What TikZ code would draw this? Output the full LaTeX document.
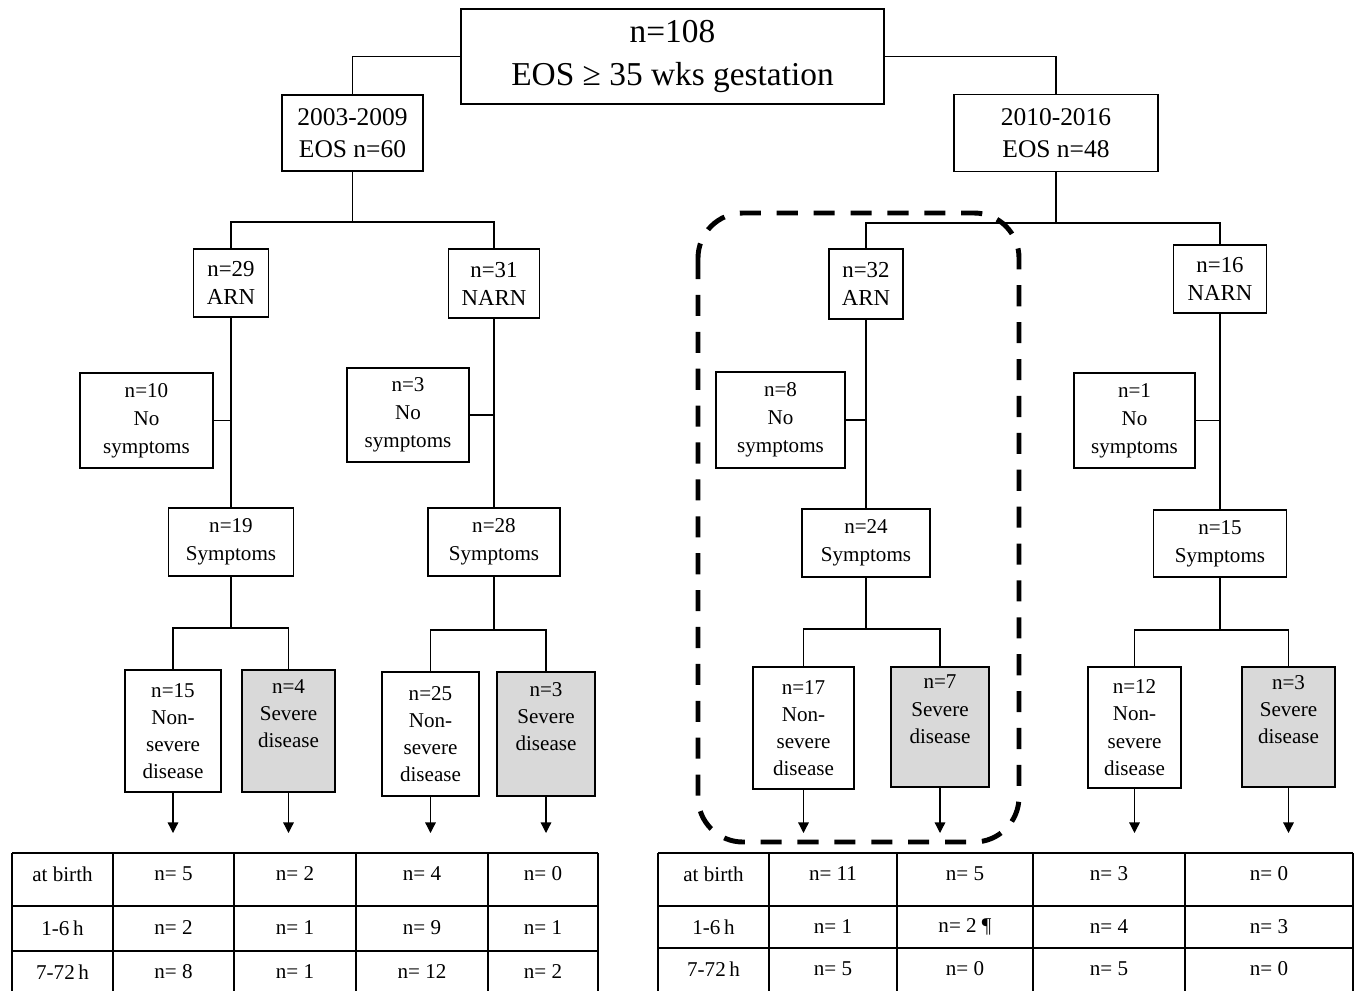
\documentclass[tikz,border=0pt]{standalone}
\usepackage{fontspec}
\setmainfont{Liberation Serif}
\usepackage{tikz}
\usetikzlibrary{arrows.meta}
\tikzset{main node/.style={draw,fill=white,align=center,inner sep=0pt,font=\fontsize{12}{16}\selectfont},
	arn node/.style={main node,font=\fontsize{13}{16}\selectfont},
	dis node/.style={main node,font=\fontsize{12}{15.5}\selectfont},
	sev node/.style={dis node,fill=gray!30},
	tab node/.style={font=\fontsize{12}{14}\selectfont},
	arr/.style={-{Triangle[width=6pt,length=6pt]}},}

\begin{document}
\begin{tikzpicture}[x=0.02cm,y=-0.02cm,line width=0.7pt]
	\useasboundingbox (0,0) rectangle (1358,991);

	\node[main node,minimum width=8.46cm,minimum height=1.9cm,font=\fontsize{19}{24}\selectfont] (top) at (672.5,56.5) {n=108\\EOS ≥ 35 wks gestation};
	\node[main node,minimum width=2.82cm,minimum height=1.52cm,font=\fontsize{14.5}{18}\selectfont] (y1) at (352.5,133) {2003-2009\\EOS n=60};
	\node[main node,minimum width=4.08cm,minimum height=1.54cm,font=\fontsize{14.5}{18}\selectfont] (y2) at (1056,133) {2010-2016\\EOS n=48};
	\coordinate (j1) at (352.5,222);
	\coordinate (j2) at (1056,223);

	% 2003-2009
	\node[arn node,minimum width=1.5cm,minimum height=1.36cm] (a1) at (231,283) {n=29\\ARN};
	\node[main node,minimum width=2.66cm,minimum height=1.9cm] (ns1) at (146.5,420.5) {n=10\\No\\symptoms};
	\node[main node,minimum width=2.5cm,minimum height=1.36cm] (s1) at (231,542) {n=19\\Symptoms};
	\node[dis node,minimum width=1.92cm,minimum height=2.44cm] (d1) at (173,731) {n=15\\Non-\\severe\\disease};
	\node[sev node,minimum width=1.86cm,minimum height=2.44cm] (v1) at (288.5,731) {n=4\\Severe\\disease\\\strut};
	\coordinate (k1) at (231,628);

	\node[arn node,minimum width=1.82cm,minimum height=1.38cm] (n1) at (494,283.5) {n=31\\NARN};
	\node[main node,minimum width=2.44cm,minimum height=1.88cm] (ns2) at (408,415) {n=3\\No\\symptoms};
	\node[main node,minimum width=2.64cm,minimum height=1.36cm] (s2) at (494,542) {n=28\\Symptoms};
	\node[dis node,minimum width=1.94cm,minimum height=2.48cm] (d2) at (430.5,734) {n=25\\Non-\\severe\\disease};
	\node[sev node,minimum width=1.96cm,minimum height=2.48cm] (v2) at (546,734) {n=3\\Severe\\disease\\\strut};
	\coordinate (k2) at (494,630);

	% 2010-2016
	\node[arn node,minimum width=1.48cm,minimum height=1.4cm] (a2) at (866,284) {n=32\\ARN};
	\node[main node,minimum width=2.58cm,minimum height=1.92cm] (ns3) at (780.5,420) {n=8\\No\\symptoms};
	\node[main node,minimum width=2.56cm,minimum height=1.36cm] (s3) at (866,543) {n=24\\Symptoms};
	\node[dis node,minimum width=2.02cm,minimum height=2.44cm] (d3) at (803.5,728) {n=17\\Non-\\severe\\disease};
	\node[sev node,minimum width=1.96cm,minimum height=2.4cm] (v3) at (940,727) {n=7\\Severe\\disease\\\strut};
	\coordinate (k3) at (866,629);

	\node[arn node,minimum width=1.86cm,minimum height=1.36cm] (n2) at (1220,279) {n=16\\NARN};
	\node[main node,minimum width=2.42cm,minimum height=1.9cm] (ns4) at (1134.5,420.5) {n=1\\No\\symptoms};
	\node[main node,minimum width=2.66cm,minimum height=1.34cm] (s4) at (1220,543.5) {n=15\\Symptoms};
	\node[dis node,minimum width=1.86cm,minimum height=2.42cm] (d4) at (1134.5,727.5) {n=12\\Non-\\severe\\disease};
	\node[sev node,minimum width=1.86cm,minimum height=2.4cm] (v4) at (1288.5,727) {n=3\\Severe\\disease\\\strut};
	\coordinate (k4) at (1220,630);

	\coordinate (tip) at (0,833);

	\draw (top) -| (y1);
	\draw (top) -| (y2);
	\draw (y1) -- (j1);
	\draw (y2) -- (j2);
	\draw (a1) |- (j1) -| (n1);
	\draw (a2) |- (j2) -| (n2);

	\foreach \a/\n/\s/\k/\d/\v in {a1/ns1/s1/k1/d1/v1,n1/ns2/s2/k2/d2/v2,a2/ns3/s3/k3/d3/v3,n2/ns4/s4/k4/d4/v4}{
		\draw (\a) -- (\s);
		\draw (\n) -- (\n -| \a);
		\draw (\s) -- (\k);
		\draw (\d) |- (\k) -| (\v);
		\draw[arr] (\d) -- (\d |- tip);
		\draw[arr] (\v) -- (\v |- tip);
	}

	\draw[line width=2.8pt,dash pattern=on 12pt off 9pt,rounded corners=0.9cm] (698,213) rectangle (1019,842);

	% tables
	\begin{scope}[line width=0.9pt]
	\foreach \x in {12,113,234,356,488,598} \draw (\x,853) -- (\x,991);
	\foreach \y in {853,906,951} \draw (12,\y) -- (598,\y);
	\foreach \x in {658,769,897,1033,1185,1353} \draw (\x,853) -- (\x,991);
	\foreach \y in {853,906,948} \draw (658,\y) -- (1353,\y);
	\end{scope}

	\foreach \r/\yy/\a/\b/\c/\d/\e in {1/874/at birth/n= 5/n= 2/n= 4/n= 0,2/928/1-6\,h/n= 2/n= 1/n= 9/n= 1,3/972/7-72\,h/n= 8/n= 1/n= 12/n= 2}{
		\node[tab node] (l\r a) at (62.5,\yy) {\a};
		\node[tab node] (l\r b) at (173.5,\yy) {\b};
		\node[tab node] (l\r c) at (295,\yy) {\c};
		\node[tab node] (l\r d) at (422,\yy) {\d};
		\node[tab node] (l\r e) at (543,\yy) {\e};
	}
	\foreach \r/\yy/\a/\b/\c/\d/\e in {1/874/at birth/n= 11/n= 5/n= 3/n= 0,2/927/1-6\,h/n= 1/n= 2 ¶/n= 4/n= 3,3/969/7-72\,h/n= 5/n= 0/n= 5/n= 0}{
		\node[tab node] (r\r a) at (713.5,\yy) {\a};
		\node[tab node] (r\r b) at (833,\yy) {\b};
		\node[tab node] (r\r c) at (965,\yy) {\c};
		\node[tab node] (r\r d) at (1109,\yy) {\d};
		\node[tab node] (r\r e) at (1269,\yy) {\e};
	}
\end{tikzpicture}
\end{document}
